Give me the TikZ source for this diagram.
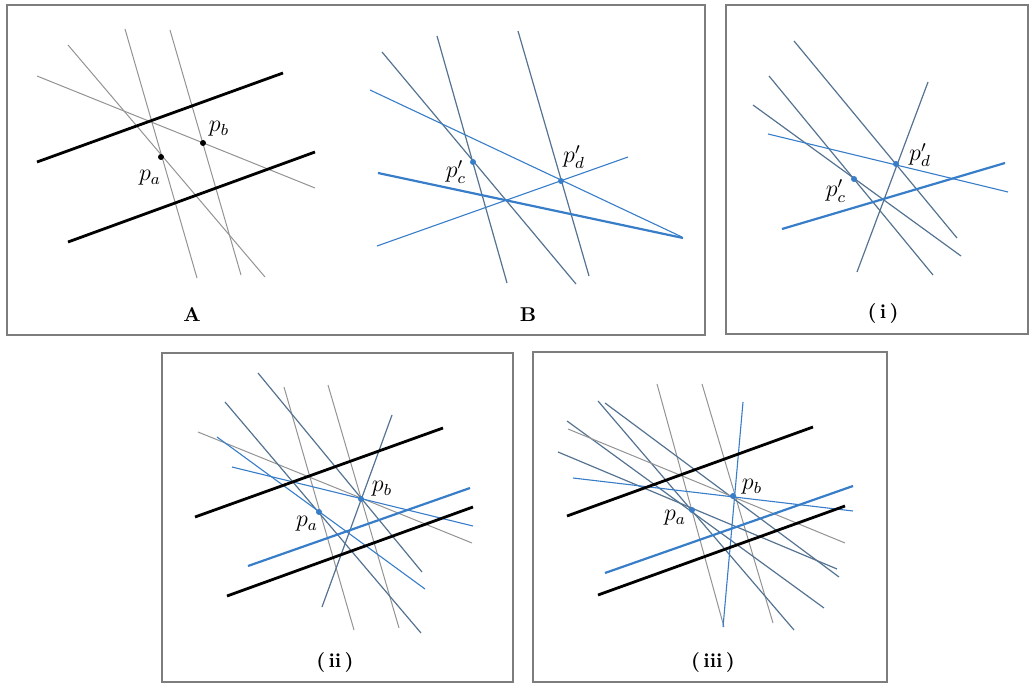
\documentclass[tikz,border=0pt]{standalone}
\definecolor{lineblue}{RGB}{55,125,200}
\definecolor{slateblue}{RGB}{85,115,145}
\definecolor{framegray}{RGB}{125,125,125}
\begin{document}
\begin{tikzpicture}[x=0.5pt, y=-0.5pt,
        panel/.style={draw=framegray, line width=1pt},
        faint/.style={draw=gray!85, line width=0.5pt},
        bline/.style={draw=lineblue, line width=0.55pt},
        sline/.style={draw=slateblue, line width=0.6pt},
        heavy/.style={draw=black, line width=1.4pt},
        heavyblue/.style={draw=lineblue, line width=1.1pt},
        ptdot/.style={circle, fill=#1, inner sep=0pt, minimum size=3pt},
        ptlabel/.style={font=\large, inner sep=1pt},
        caption/.style={font=\bfseries}
    ]
    \useasboundingbox (0,0) rectangle (1031,684);

    % Panel frames
    \draw[panel] (7,5) rectangle (705,335);
    \draw[panel] (726,5) rectangle (1028,334);
    \draw[panel] (162,353) rectangle (513,682);
    \draw[panel] (533,352) rectangle (887,682);

    % Panel A: two parallel lines and four crossing lines
    \draw[faint] (125,29) -- (197,278);
    \draw[faint] (170,30) -- (241,275);
    \draw[faint] (68,45) -- (265,277);
    \draw[faint] (37,76) -- (315,188);
    \draw[heavy] (37,162) -- (283,73);
    \draw[heavy] (68,242) -- (315,152);
    \node[ptdot=black] (pa) at (161,157) {};
    \node[ptdot=black] (pb) at (203,143) {};
    \node[ptlabel] (pa label) at (150,178) {$p_a$};
    \node[ptlabel] (pb label) at (219,129) {$p_b$};
    \node[caption] (capA) at (192,315) {A};

    % Panel B: transformed lines
    \draw[sline] (437,36) -- (507,283);
    \draw[sline] (518,31) -- (589,276);
    \draw[sline] (382,52) -- (576,284);
    \draw[bline] (370,90) -- (682,237);
    \draw[bline] (377,246) -- (628,157);
    \draw[heavyblue] (378,173) -- (683,238);
    \node[ptdot=lineblue] (pc) at (473,162) {};
    \node[ptdot=lineblue] (pd) at (561,181) {};
    \node[ptlabel] (pc label) at (456,172) {$p'_c$};
    \node[ptlabel] (pd label) at (574,157) {$p'_d$};
    \node[caption] (capB) at (528,315) {B};

    % Panel (i)
    \draw[sline] (794,41) -- (957,238);
    \draw[sline] (769,76) -- (933,275);
    \draw[sline] (753,105) -- (961,256);
    \draw[bline] (768,134) -- (1008,192);
    \draw[sline] (857,272) -- (928,82);
    \draw[heavyblue] (782,229) -- (1005,163);
    \node[ptdot=lineblue] (pd1) at (896,164) {};
    \node[ptdot=lineblue] (pc1) at (854,179) {};
    \node[ptlabel] (pd1 label) at (920,155) {$p'_d$};
    \node[ptlabel] (pc1 label) at (836,191) {$p'_c$};
    \node[caption] (capi) at (883,313) {(\,i\,)};

    % Panel (ii)
    \draw[faint] (284,387) -- (354,630);
    \draw[faint] (328,385) -- (399,628);
    \draw[faint] (198,432) -- (472,543);
    \draw[sline] (258,373) -- (422,572);
    \draw[sline] (225,402) -- (421,633);
    \draw[bline] (217,437) -- (425,589);
    \draw[bline] (232,467) -- (473,526);
    \draw[sline] (322,607) -- (392,415);
    \draw[heavy] (195,517) -- (443,428);
    \draw[heavy] (227,596) -- (473,507);
    \draw[heavyblue] (248,566) -- (470,488);
    \node[ptdot=lineblue] (pa2) at (319,512) {};
    \node[ptdot=lineblue] (pb2) at (361,499) {};
    \node[ptlabel] (pa2 label) at (307,524) {$p_a$};
    \node[ptlabel] (pb2 label) at (382,489) {$p_b$};
    \node[caption] (capii) at (335,662) {(\,ii\,)};

    % Panel (iii)
    \draw[faint] (657,384) -- (724,627);
    \draw[faint] (702,384) -- (773,623);
    \draw[sline] (598,401) -- (794,630);
    \draw[sline] (605,403) -- (839,577);
    \draw[sline] (567,421) -- (824,608);
    \draw[faint] (568,429) -- (845,543);
    \draw[sline] (558,452) -- (837,569);
    \draw[bline] (573,478) -- (853,511);
    \draw[bline] (723,627) -- (743,402);
    \draw[heavy] (567,516) -- (813,427);
    \draw[heavy] (598,595) -- (845,506);
    \draw[heavyblue] (605,573) -- (853,486);
    \node[ptdot=lineblue] (pa3) at (692,510) {};
    \node[ptdot=lineblue] (pb3) at (733,496) {};
    \node[ptlabel] (pa3 label) at (675,518) {$p_a$};
    \node[ptlabel] (pb3 label) at (752,487) {$p_b$};
    \node[caption] (capiii) at (713,662) {(\,iii\,)};

\end{tikzpicture}
\end{document}
